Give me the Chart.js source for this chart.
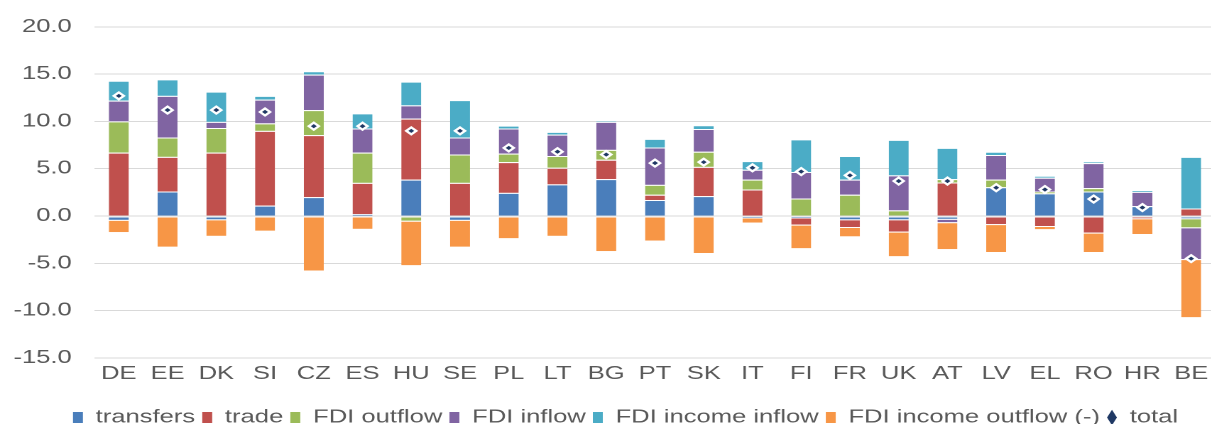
<!DOCTYPE html>
<html>
<head>
<meta charset="utf-8">
<script src="https://cdn.jsdelivr.net/npm/chart.js@4.4.1/dist/chart.umd.min.js"></script>
<style>
  html, body { margin: 0; padding: 0; background: #ffffff; overflow: hidden; width: 1211px; height: 424px; }
  #wrap { width: 862px; height: 424px; transform: scaleX(1.42); transform-origin: 0 0; }
  canvas { display: block; }
</style>
</head>
<body>
<div id="wrap"><canvas id="chart" width="862" height="424" style="width:862px;height:424px"></canvas></div>
<script>
// Country codes along the horizontal axis
const countries = ['DE','EE','DK','SI','CZ','ES','HU','SE','PL','LT','BG','PT','SK','IT','FI','FR','UK','AT','LV','EL','RO','HR','BE'];

// Contributions by component
const transfers          = [-0.4, 2.6, -0.35, 1.1, 2.0, 0.2, 3.85, -0.4, 2.45, 3.35, 3.9, 1.7, 2.1, -0.15, -0.15, -0.35, -0.35, -0.3, 3.05, 2.4, 2.6, 1.05, -0.25];
const trade              = [6.7, 3.65, 6.7, 7.9, 6.55, 3.3, 6.45, 3.5, 3.25, 1.75, 2.05, 0.55, 3.1, 2.8, -0.75, -0.8, -1.3, 3.55, -0.85, -1.05, -1.75, -0.25, 0.8];
const fdiOutflow         = [3.3, 2.05, 2.6, 0.8, 2.65, 3.2, -0.5, 3.0, 0.9, 1.25, 1.05, 1.05, 1.6, 1.05, 1.85, 2.25, 0.6, 0.35, 0.8, 0.2, 0.35, 0, -0.95];
const fdiInflow          = [2.2, 4.4, 0.65, 2.5, 3.75, 2.55, 1.4, 1.8, 2.65, 2.25, 2.95, 3.95, 2.4, 1.05, 2.8, 1.6, 3.7, -0.35, 2.6, 1.45, 2.65, 1.5, -3.35];
const fdiIncomeInflow    = [2.1, 1.75, 3.2, 0.4, 0.35, 1.6, 2.5, 3.95, 0.3, 0.3, 0.1, 0.9, 0.4, 0.9, 3.45, 2.5, 3.75, 3.3, 0.35, 0.2, 0.15, 0.2, 5.45];
const fdiIncomeOutflow   = [-1.3, -3.25, -1.75, -1.55, -5.75, -1.35, -4.7, -2.85, -2.35, -2.1, -3.7, -2.6, -3.9, -0.55, -2.5, -1.0, -2.6, -2.85, -2.95, -0.35, -2.05, -1.65, -6.15];
const total              = [12.7, 11.2, 11.2, 11.0, 9.5, 9.5, 9.0, 9.0, 7.2, 6.8, 6.5, 5.6, 5.7, 5.1, 4.7, 4.3, 3.7, 3.7, 3.0, 2.8, 1.8, 0.9, -4.5];

// Value axis
const yMin = -15, yMax = 20, yStep = 5;

Chart.defaults.font.family = "'Liberation Sans', Arial, sans-serif";
Chart.defaults.color = '#595959';

function barSet(label, data, color) {
  return {
    type: 'bar',
    label,
    data,
    backgroundColor: color,
    borderColor: '#ffffff',
    borderWidth: { top: 1, right: 0, bottom: 0, left: 0 },
    borderSkipped: false,
    pointStyle: 'rect',
    stack: 'parts',
    categoryPercentage: 1,
    barPercentage: 0.41
  };
}

const legendNudge = {
  id: 'legendNudge',
  afterLayout(chart) {
    const lg = chart.legend;
    lg.left += 11; lg.right += 11;
    lg.top += 12.5; lg.bottom += 12.5;
  }
};

new Chart(document.getElementById('chart'), {
  data: {
    labels: countries,
    datasets: [
      barSet('transfers', transfers, '#4A7EBB'),
      barSet('trade', trade, '#C0504D'),
      barSet('FDI outflow', fdiOutflow, '#9BBB59'),
      barSet('FDI inflow', fdiInflow, '#8064A2'),
      barSet('FDI income inflow', fdiIncomeInflow, '#4BACC6'),
      barSet('FDI income outflow (-)', fdiIncomeOutflow, '#F79646'),
      {
        type: 'line',
        label: 'total',
        data: total,
        stack: 'total',
        showLine: false,
        order: -1,
        pointStyle: 'rectRot',
        pointRadius: 3.5,
        pointBackgroundColor: '#1F3864',
        pointBorderColor: '#ffffff',
        pointBorderWidth: 2,
        backgroundColor: '#1F3864',
        borderColor: '#ffffff',
        borderWidth: 2
      }
    ]
  },
  options: {
    responsive: false,
    animation: false,
    devicePixelRatio: 2,
    events: [],
    layout: { padding: { top: 24, right: 3, bottom: 0, left: 0 } },
    plugins: {
      tooltip: { enabled: false },
      legend: {
        position: 'bottom',
        labels: {
          usePointStyle: true,
          pointStyleWidth: 7,
          boxHeight: 11,
          padding: 5,
          color: '#595959',
          font: { size: 18 },
          sort: (a, b) => a.datasetIndex - b.datasetIndex,
          generateLabels(chart) {
            const items = Chart.defaults.plugins.legend.labels.generateLabels(chart);
            items.forEach(it => { it.lineWidth = 0; });
            return items;
          }
        }
      }
    },
    scales: {
      x: {
        stacked: true,
        grid: { display: false, drawTicks: false },
        border: { display: false },
        ticks: { padding: 5, font: { size: 18 }, color: '#595959' },
        afterFit(scale) { scale.height = 33; }
      },
      y: {
        stacked: true,
        min: yMin,
        max: yMax,
        grid: { color: '#D9D9D9', lineWidth: 1, drawTicks: false },
        border: { display: false },
        ticks: {
          stepSize: yStep,
          padding: 16,
          font: { size: 18 },
          color: '#595959',
          callback: v => Number(v).toFixed(1)
        },
        afterFit(scale) { scale.width = 66.5; }
      }
    }
  },
  plugins: [legendNudge]
});
</script>
</body>
</html>
